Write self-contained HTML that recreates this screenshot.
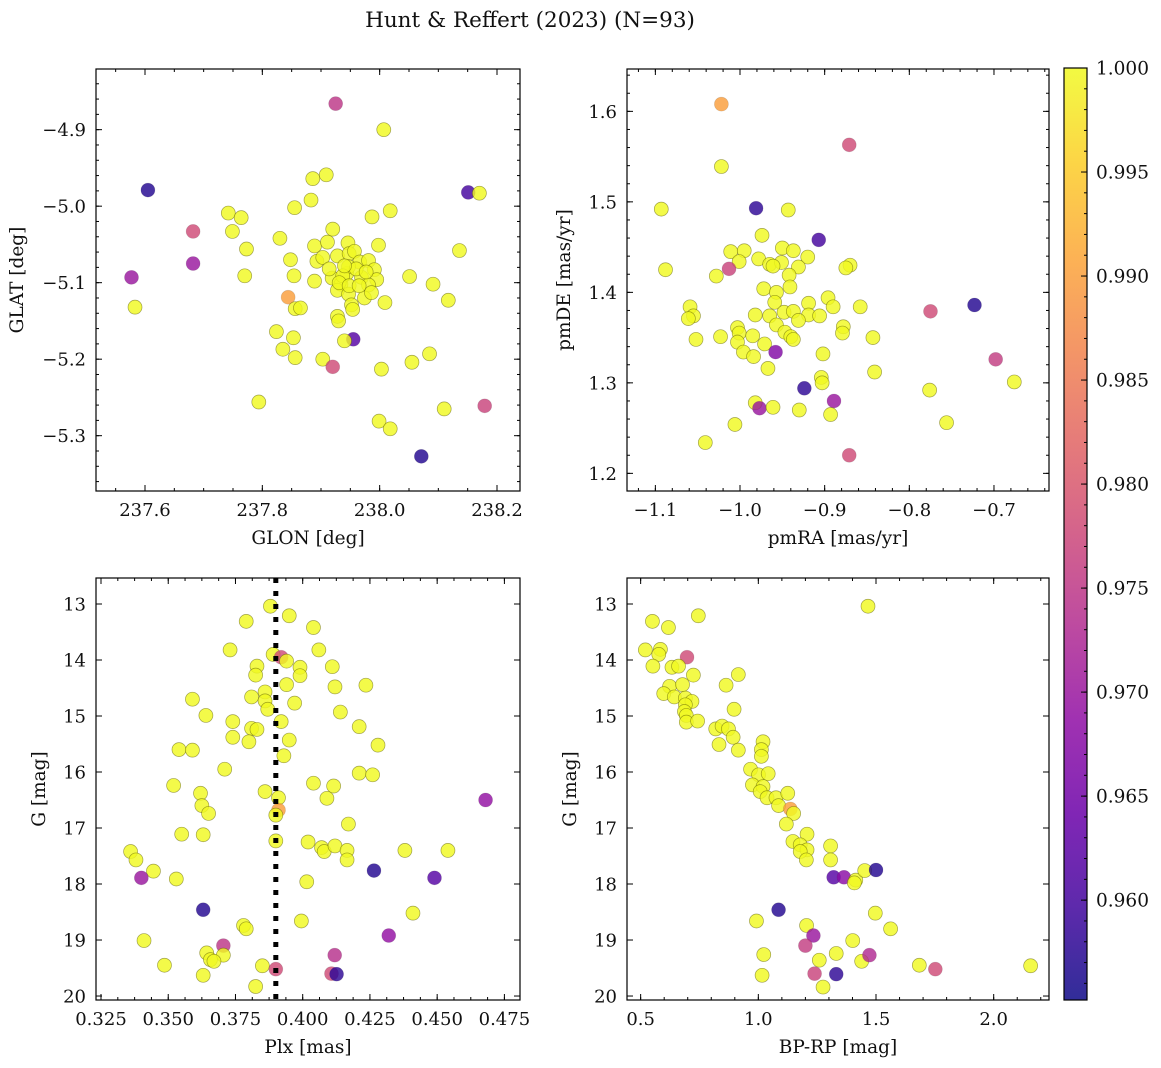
<!DOCTYPE html>
<html><head><meta charset="utf-8"><title>Hunt & Reffert (2023)</title>
<style>
html,body{margin:0;padding:0;background:#fff;}
svg{display:block;font-family:"DejaVu Serif","Liberation Serif",serif;}
</style></head>
<body>
<svg id="fig" width="1161" height="1068" viewBox="0 0 1161 1068" xmlns="http://www.w3.org/2000/svg">
<text x="530" y="27" font-size="21.5" text-anchor="middle" fill="#111">Hunt &amp; Reffert (2023) (N=93)</text>
</svg>
<script>
// ---------- Panel 1: GLON / GLAT ----------
const p1Glon = [237.925,238.007,237.605,238.151,238.170,237.886,237.909,237.883,237.855,237.742,237.764,237.987,238.018,237.682,237.749,237.920,237.830,237.773,237.889,237.911,237.946,237.998,238.136,237.682,237.848,237.893,237.903,237.928,237.948,237.957,237.966,237.981,237.577,237.770,237.854,237.889,237.919,237.934,237.944,237.947,237.969,237.991,237.995,237.981,238.051,238.091,237.928,237.947,237.974,237.986,237.844,237.583,237.856,237.865,237.952,237.954,238.009,238.117,237.928,237.930,237.824,237.853,237.955,237.940,237.835,237.856,237.903,237.920,238.003,238.055,238.085,237.794,238.110,238.179,237.999,238.018,238.071,237.937,237.931,237.948,237.960,237.914,237.977,237.965,237.940];
const p1Glat = [-4.866,-4.900,-4.979,-4.982,-4.983,-4.964,-4.959,-4.992,-5.002,-5.009,-5.015,-5.014,-5.006,-5.033,-5.033,-5.030,-5.042,-5.056,-5.052,-5.047,-5.048,-5.051,-5.058,-5.075,-5.070,-5.072,-5.067,-5.065,-5.062,-5.059,-5.073,-5.071,-5.093,-5.091,-5.091,-5.098,-5.094,-5.102,-5.088,-5.079,-5.093,-5.083,-5.096,-5.103,-5.092,-5.102,-5.110,-5.115,-5.120,-5.113,-5.119,-5.132,-5.134,-5.133,-5.129,-5.135,-5.126,-5.123,-5.144,-5.150,-5.164,-5.172,-5.174,-5.176,-5.187,-5.198,-5.200,-5.210,-5.213,-5.204,-5.193,-5.256,-5.265,-5.261,-5.281,-5.291,-5.327,-5.091,-5.100,-5.104,-5.082,-5.082,-5.086,-5.104,-5.078];
const p1Prob = [0.975,1,0.957,0.960,1,1,1,1,1,1,1,1,1,0.978,1,1,1,1,1,1,1,1,1,0.970,1,1,1,1,1,1,1,1,0.970,1,1,1,1,1,1,1,1,1,1,1,1,1,1,1,1,1,0.990,1,1,1,1,1,1,1,1,1,1,1,0.962,1,1,1,1,0.978,1,1,1,1,1,0.977,1,1,0.957,1,1,1,1,1,1,1,1];
const p1XTicks = [237.6,237.8,238.0,238.2];
const p1XTickLabels = ["237.6","237.8","238.0","238.2"];
const p1YTicks = [-4.9,-5.0,-5.1,-5.2,-5.3];
const p1YTickLabels = ["\u22124.9","\u22125.0","\u22125.1","\u22125.2","\u22125.3"];

// ---------- Panel 2: pmRA / pmDE ----------
const p2Pmra = [-1.022,-0.871,-1.022,-1.093,-0.981,-0.943,-0.907,-0.974,-1.011,-0.995,-0.950,-0.937,-0.920,-0.978,-1.001,-0.965,-0.951,-0.931,-0.870,-0.875,-1.088,-1.013,-1.028,-0.942,-0.961,-0.972,-0.957,-0.941,-0.959,-0.896,-0.890,-0.858,-1.059,-1.055,-1.061,-0.982,-0.965,-0.948,-0.937,-0.919,-0.919,-0.906,-0.931,-0.957,-1.003,-1.001,-0.878,-0.879,-0.775,-0.723,-1.052,-1.023,-0.985,-0.947,-0.940,-0.937,-0.843,-1.003,-0.971,-0.958,-0.996,-0.984,-0.902,-0.698,-0.967,-0.841,-0.904,-0.903,-0.676,-0.924,-0.776,-0.889,-0.982,-0.977,-0.961,-0.930,-0.893,-0.756,-1.006,-1.041,-0.871];
const p2Pmde = [1.608,1.563,1.539,1.492,1.493,1.491,1.458,1.463,1.445,1.446,1.449,1.446,1.439,1.437,1.434,1.431,1.433,1.428,1.430,1.427,1.425,1.426,1.418,1.419,1.429,1.404,1.400,1.406,1.389,1.394,1.384,1.384,1.384,1.374,1.371,1.375,1.374,1.378,1.379,1.388,1.375,1.374,1.369,1.364,1.361,1.355,1.362,1.355,1.379,1.386,1.348,1.351,1.352,1.356,1.351,1.348,1.350,1.345,1.343,1.334,1.334,1.329,1.332,1.326,1.316,1.312,1.306,1.300,1.301,1.294,1.292,1.280,1.278,1.272,1.273,1.270,1.265,1.256,1.254,1.234,1.220];
const p2Prob = [0.990,0.978,1,1,0.958,1,0.960,1,1,1,1,1,1,1,1,1,1,1,1,1,1,0.977,1,1,1,1,1,1,1,1,1,1,1,1,1,1,1,1,1,1,1,1,1,1,1,1,1,1,0.978,0.957,1,1,1,1,1,1,1,1,1,0.967,1,1,1,0.976,1,1,1,1,1,0.958,1,0.970,1,0.970,1,1,1,1,1,1,0.978];
const p2XTicks = [-1.1,-1.0,-0.9,-0.8,-0.7];
const p2XTickLabels = ["\u22121.1","\u22121.0","\u22120.9","\u22120.8","\u22120.7"];
const p2YTicks = [1.2,1.3,1.4,1.5,1.6];
const p2YTickLabels = ["1.2","1.3","1.4","1.5","1.6"];

// ---------- Panel 3: Plx / G ----------
const p3Plx = [0.388,0.395,0.379,0.404,0.373,0.406,0.389,0.392,0.394,0.383,0.3825,0.399,0.399,0.411,0.394,0.412,0.4235,0.386,0.381,0.386,0.387,0.397,0.359,0.364,0.414,0.374,0.392,0.381,0.383,0.421,0.374,0.380,0.395,0.428,0.354,0.359,0.393,0.371,0.421,0.426,0.352,0.404,0.4115,0.362,0.386,0.391,0.409,0.468,0.3625,0.391,0.390,0.365,0.417,0.355,0.363,0.390,0.402,0.407,0.408,0.412,0.4165,0.4165,0.438,0.454,0.336,0.338,0.3445,0.340,0.353,0.4265,0.449,0.4015,0.363,0.441,0.3995,0.378,0.379,0.432,0.341,0.3705,0.3643,0.3705,0.3657,0.367,0.4119,0.3486,0.385,0.390,0.363,0.4107,0.4126,0.3825];
const p3G = [13.04,13.21,13.31,13.42,13.82,13.82,13.90,13.95,14.02,14.11,14.27,14.13,14.28,14.12,14.44,14.48,14.45,14.57,14.66,14.73,14.88,14.77,14.70,14.99,14.93,15.10,15.10,15.22,15.24,15.19,15.38,15.46,15.43,15.52,15.60,15.61,15.71,15.95,16.02,16.05,16.24,16.20,16.25,16.38,16.35,16.46,16.47,16.50,16.60,16.68,16.77,16.74,16.93,17.11,17.12,17.23,17.25,17.35,17.42,17.32,17.40,17.57,17.40,17.40,17.42,17.57,17.77,17.89,17.91,17.76,17.89,17.96,18.46,18.52,18.66,18.74,18.80,18.92,19.01,19.10,19.23,19.27,19.35,19.38,19.27,19.45,19.46,19.52,19.63,19.60,19.61,19.83];
const p3Prob = [1,1,1,1,1,1,1,0.978,1,1,1,1,1,1,1,1,1,1,1,1,1,1,1,1,1,1,1,1,1,1,1,1,1,1,1,1,1,1,1,1,1,1,1,1,1,1,1,0.969,1,0.990,1,1,1,1,1,1,1,1,1,1,1,1,1,1,1,1,1,0.970,1,0.957,0.962,1,0.957,1,1,1,1,0.969,1,0.975,1,1,1,1,0.974,1,1,0.978,1,0.978,0.958,1];
const p3XTicks = [0.325,0.350,0.375,0.400,0.425,0.450,0.475];
const p3XTickLabels = ["0.325","0.350","0.375","0.400","0.425","0.450","0.475"];
const p3YTicks = [13,14,15,16,17,18,19,20];
const p3YTickLabels = ["13","14","15","16","17","18","19","20"];
const p3RefPlx = [0.390];

// ---------- Panel 4: BP-RP / G ----------
const p4Bprp = [1.466,0.550,0.618,0.745,0.520,0.584,0.577,0.697,0.552,0.633,0.661,0.724,0.915,0.863,0.623,0.678,0.598,0.643,0.690,0.718,0.690,0.897,0.686,0.694,0.694,0.742,0.819,0.846,0.873,0.893,0.833,0.915,1.020,1.013,1.013,0.967,1.001,1.042,0.975,1.020,1.008,1.037,1.075,1.125,1.086,1.136,1.150,1.119,1.207,1.147,1.178,1.207,1.178,1.204,1.307,1.307,1.320,1.364,1.414,1.408,1.452,1.500,1.086,0.992,1.497,1.562,1.205,1.234,1.200,1.401,1.023,1.331,1.259,1.439,1.472,1.016,1.239,1.331,1.275,1.684,1.752,2.157];
const p4G = [13.04,13.31,13.42,13.21,13.82,13.81,13.90,13.95,14.11,14.13,14.11,14.27,14.26,14.45,14.47,14.44,14.60,14.66,14.68,14.74,14.80,14.88,14.92,14.99,15.11,15.09,15.23,15.18,15.23,15.38,15.51,15.61,15.46,15.60,15.72,15.95,16.05,16.03,16.23,16.26,16.35,16.46,16.46,16.38,16.60,16.66,16.74,16.93,17.11,17.24,17.30,17.39,17.42,17.57,17.32,17.57,17.88,17.88,17.93,17.98,17.76,17.75,18.46,18.66,18.52,18.80,18.74,18.92,19.10,19.01,19.26,19.24,19.36,19.38,19.27,19.63,19.60,19.61,19.84,19.45,19.52,19.46];
const p4Prob = [1,1,1,1,1,1,1,0.978,1,1,1,1,1,1,1,1,1,1,1,1,1,1,1,1,1,1,1,1,1,1,1,1,1,1,1,1,1,1,1,1,1,1,1,1,1,0.990,1,1,1,1,1,1,1,1,1,1,0.962,0.968,1,1,1,0.957,0.957,1,1,1,1,0.970,0.976,1,1,1,1,1,0.973,1,0.977,0.958,1,1,0.978,1];
const p4XTicks = [0.5,1.0,1.5,2.0];
const p4XTickLabels = ["0.5","1.0","1.5","2.0"];
const p4YTicks = [13,14,15,16,17,18,19,20];
const p4YTickLabels = ["13","14","15","16","17","18","19","20"];

// ---------- Colorbar ----------
const cbarTicks = [0.960,0.965,0.970,0.975,0.980,0.985,0.990,0.995,1.000];
const cbarTickLabels = ["0.960","0.965","0.970","0.975","0.980","0.985","0.990","0.995","1.000"];
const cbarRange = [0.9552,1.0];

const NS = "http://www.w3.org/2000/svg";
const svg = document.getElementById('fig');
const TICK_FS = 18, LABEL_FS = 18.5;
function mk(tag, attrs, parent){
  const e = document.createElementNS(NS, tag);
  for (const k in attrs) e.setAttribute(k, attrs[k]);
  (parent||svg).appendChild(e);
  return e;
}
const plasmaStops = [[13,8,135],[65,4,157],[106,0,168],[143,13,164],[177,42,144],[204,71,120],[225,100,98],[242,132,75],[252,166,54],[252,206,37],[240,249,33]];
function plasma(t){
  t = Math.max(0, Math.min(1, t));
  const f = t*10, i = Math.min(9, Math.floor(f)), r = f - i;
  const a = plasmaStops[i], b = plasmaStops[i+1];
  return 'rgb(' + [0,1,2].map(k => Math.round(a[k]+(b[k]-a[k])*r)).join(',') + ')';
}
function colorOf(p){ return plasma((p - cbarRange[0])/(cbarRange[1]-cbarRange[0])); }

function panel(cfg){
  const {x0,y0,w,h,xd,yd,name} = cfg;
  const g = mk('g', {});
  
  
  const sx = v => x0 + (v - xd[0])/(xd[1]-xd[0])*w;
  const sy = v => y0 + h - (v - yd[0])/(yd[1]-yd[0])*h;
  const cid = name + '-clip';
  const cp = mk('clipPath', {id: cid}, g);
  mk('rect', {x:x0, y:y0, width:w, height:h}, cp);
  const pts = mk('g', {'clip-path':'url(#'+cid+')'}, g);
  
  
  cfg.xs.forEach((xv, i) => {
    const p = cfg.c[i];
    const c = mk('circle', {cx:sx(xv), cy:sy(cfg.ys[i]), r:7, fill:colorOf(p), 'fill-opacity':0.82,
      stroke: p > 0.995 ? 'rgba(90,90,0,0.55)' : 'rgba(40,40,40,0.15)', 'stroke-width':0.7}, pts);
    
    
  });
  if (cfg.vline){
    cfg.vline.forEach(v => {
      const l = mk('line', {x1:sx(v), x2:sx(v), y1:y0, y2:y0+h, stroke:'#000', 'stroke-width':5, 'stroke-dasharray':'5,8'}, g);
      
      
    });
  }
  const fr = mk('rect', {x:x0, y:y0, width:w, height:h, fill:'none', stroke:'#000', 'stroke-width':1.2}, g);
  
  
  const tk = mk('g', {stroke:'#000', 'stroke-width':1}, g);
  
  
  function minors(dom, step){
    const out = [];
    const s = Math.ceil(dom[0]/step - 1e-6);
    for (let k = s; k*step <= dom[1]+1e-9; k++) out.push(k*step);
    return out;
  }
  minors(xd, cfg.xminor).forEach(v => {
    const X = sx(v);
    mk('line', {x1:X, x2:X, y1:y0+h, y2:y0+h-3}, tk);
    mk('line', {x1:X, x2:X, y1:y0, y2:y0+3}, tk);
  });
  minors(yd, cfg.yminor).forEach(v => {
    const Y = sy(v);
    mk('line', {x1:x0, x2:x0+3, y1:Y, y2:Y}, tk);
    mk('line', {x1:x0+w, x2:x0+w-3, y1:Y, y2:Y}, tk);
  });
  cfg.xt.forEach((v, i) => {
    const X = sx(v);
    mk('line', {x1:X, x2:X, y1:y0+h, y2:y0+h-6}, tk);
    mk('line', {x1:X, x2:X, y1:y0, y2:y0+6}, tk);
    const t = mk('text', {x:X, y:y0+h+25, 'font-size':TICK_FS, 'text-anchor':'middle', fill:'#111'}, g);
    t.textContent = cfg.xtl[i];
    
    
  });
  cfg.yt.forEach((v, i) => {
    const Y = sy(v);
    mk('line', {x1:x0, x2:x0+6, y1:Y, y2:Y}, tk);
    mk('line', {x1:x0+w, x2:x0+w-6, y1:Y, y2:Y}, tk);
    const t = mk('text', {x:x0-10, y:Y+6.5, 'font-size':TICK_FS, 'text-anchor':'end', fill:'#111'}, g);
    t.textContent = cfg.ytl[i];
    
    
  });
  const xl = mk('text', {x:x0+w/2, y:y0+h+53, 'font-size':LABEL_FS, 'text-anchor':'middle', fill:'#111'}, g);
  xl.textContent = cfg.xlabel;
  
  
  const yl = mk('text', {x:cfg.ylx, y:y0+h/2, 'font-size':LABEL_FS, 'text-anchor':'middle', fill:'#111', transform:'rotate(-90 '+cfg.ylx+' '+(y0+h/2)+')'}, g);
  yl.textContent = cfg.ylabel;
  
  
}

panel({name:'glon-glat-panel', x0:96, y0:69, w:424, h:422, xd:[237.5165,238.2392], yd:[-5.3723,-4.8207],
  xs:p1Glon, ys:p1Glat, c:p1Prob, xt:p1XTicks, xtl:p1XTickLabels, yt:p1YTicks, ytl:p1YTickLabels,
  xminor:0.05, yminor:0.02, xlabel:'GLON [deg]', ylabel:'GLAT [deg]', ylx:23});
panel({name:'proper-motion-panel', x0:627, y0:69, w:422, h:422, xd:[-1.1335,-0.635], yd:[1.1805,1.6468],
  xs:p2Pmra, ys:p2Pmde, c:p2Prob, xt:p2XTicks, xtl:p2XTickLabels, yt:p2YTicks, ytl:p2YTickLabels,
  xminor:0.02, yminor:0.02, xlabel:'pmRA [mas/yr]', ylabel:'pmDE [mas/yr]', ylx:570});
panel({name:'parallax-magnitude-panel', x0:96, y0:578, w:424, h:422, xd:[0.32314,0.4808], yd:[20.071,12.536],
  xs:p3Plx, ys:p3G, c:p3Prob, xt:p3XTicks, xtl:p3XTickLabels, yt:p3YTicks, ytl:p3YTickLabels,
  xminor:0.00625, yminor:0.2, xlabel:'Plx [mas]', ylabel:'G [mag]', ylx:45, vline:p3RefPlx});
panel({name:'cmd-panel', x0:627, y0:578, w:422, h:422, xd:[0.442,2.235], yd:[20.071,12.536],
  xs:p4Bprp, ys:p4G, c:p4Prob, xt:p4XTicks, xtl:p4XTickLabels, yt:p4YTicks, ytl:p4YTickLabels,
  xminor:0.1, yminor:0.2, xlabel:'BP-RP [mag]', ylabel:'G [mag]', ylx:576});

(function(){
  const cx = 1064, cy = 68, cw = 23, ch = 932;
  const g = mk('g', {});
  
  
  const defs = mk('defs', {}, g);
  const lg = mk('linearGradient', {id:'cbgrad', x1:0, y1:1, x2:0, y2:0}, defs);
  for (let i = 0; i <= 20; i++){
    mk('stop', {offset:(i/20), 'stop-color':plasma(i/20), 'stop-opacity':0.85}, lg);
  }
  const r = mk('rect', {x:cx, y:cy, width:cw, height:ch, fill:'url(#cbgrad)', stroke:'#000', 'stroke-width':1.2}, g);
  
  
  const sy = v => cy + ch - (v - cbarRange[0])/(cbarRange[1]-cbarRange[0])*ch;
  for (let v = 0.956; v <= 1.00001; v += 0.001){
    const Y = sy(v);
    mk('line', {x1:cx+cw, x2:cx+cw-3, y1:Y, y2:Y, stroke:'#000', 'stroke-width':1}, g);
  }
  cbarTicks.forEach((v, i) => {
    const Y = sy(v);
    mk('line', {x1:cx+cw, x2:cx+cw-6, y1:Y, y2:Y, stroke:'#000', 'stroke-width':1}, g);
    const t = mk('text', {x:cx+cw+9, y:Y+6.5, 'font-size':LABEL_FS, fill:'#111'}, g);
    t.textContent = cbarTickLabels[i];
    
    
  });
})();
</script>
</body></html>
